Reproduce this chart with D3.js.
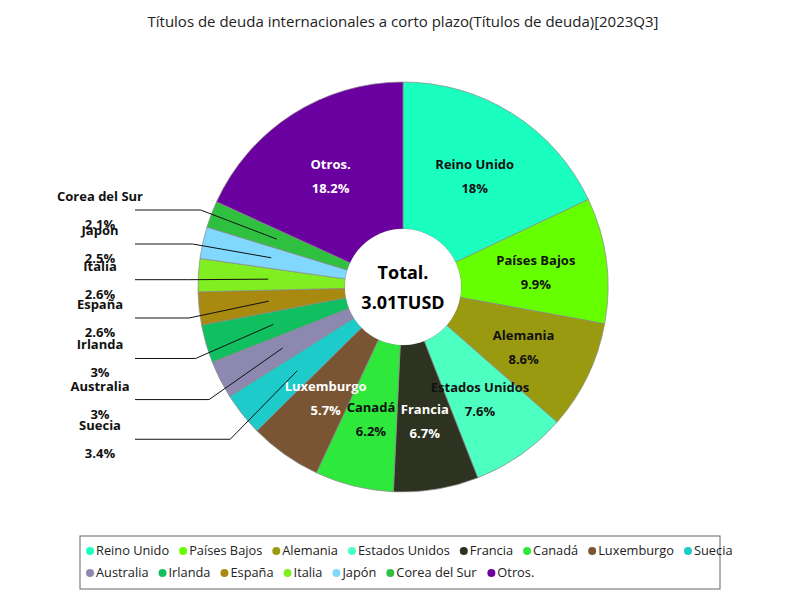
<!DOCTYPE html><html><head><meta charset="utf-8">
<script src="https://cdn.jsdelivr.net/npm/d3@7"></script>
<style>body{margin:0;background:#fff;font-family:"Open Sans",sans-serif}</style></head><body>
<svg id="c" width="800" height="600"></svg>
<script>
const categories=["Reino Unido","Países Bajos","Alemania","Estados Unidos","Francia","Canadá","Luxemburgo","Suecia","Australia","Irlanda","España","Italia","Japón","Corea del Sur","Otros."];
const values=[18,9.9,8.6,7.6,6.7,6.2,5.7,3.4,3,3,2.6,2.6,2.5,2.1,18.2];
const colors=["#1affc0","#66ff00","#9a9a10","#4dffc0","#2d3320","#2ee83c","#7a5533","#1ecbcb","#8c88b0","#10c060","#a88a10","#80ee20","#80d8ff","#30c040","#6a00a0"];
const darkText=new Set(["Francia","Luxemburgo","Otros."]);
const svg=d3.select("#c");
svg.append("text").attr("x",403).attr("y",27).attr("text-anchor","middle").attr("font-size",15).attr("fill","#222")
 .text("Títulos de deuda internacionales a corto plazo(Títulos de deuda)[2023Q3]");
const cx=403,cy=287,R=205,r0=58;
const g=svg.append("g").attr("transform",`translate(${cx},${cy})`);
const pie=d3.pie().sort(null).value(d=>d.v);
const data=pie(categories.map((c,i)=>({c,v:values[i],col:colors[i]})));
const arc=d3.arc().innerRadius(r0).outerRadius(R);
g.selectAll("path").data(data).join("path").attr("d",arc).attr("fill",d=>d.data.col).attr("stroke","#888").attr("stroke-width",0.7);
const small=data.filter(d=>d.data.v<3.5);
const big=data.filter(d=>d.data.v>=3.5);
const lab=d3.arc().innerRadius(134).outerRadius(134);
big.forEach(d=>{const [x,y]=lab.centroid(d);const col=darkText.has(d.data.c)?"#fff":"#111";
 g.append("text").attr("x",x).attr("y",y-5).attr("text-anchor","middle").attr("font-size",13).attr("font-weight","bold").attr("fill",col).text(d.data.c);
 g.append("text").attr("x",x).attr("y",y+19).attr("text-anchor","middle").attr("font-size",13).attr("font-weight","bold").attr("fill",col).text(d.data.v+"%");});
const inner=d3.arc().innerRadius(135).outerRadius(135);
const ys=small.map(d=>{const a=(d.startAngle+d.endAngle)/2;return -Math.cos(a)*235;});
const order=small.map((d,i)=>i).sort((a,b)=>ys[a]-ys[b]);
let prev=-1e9;order.forEach(i=>{if(ys[i]<prev+34)ys[i]=prev+34;prev=ys[i];});
small.forEach((d,i)=>{const [x,y]=inner.centroid(d);const a=(d.startAngle+d.endAngle)/2;
 const ly=ys[i]-(ys[order[0]]+77);const ex=Math.sin(a)*195-20;
 g.append("polyline").attr("points",[[x,y],[ex,ly],[-268,ly]].map(p=>p.join(",")).join(" ")).attr("fill","none").attr("stroke","#111").attr("stroke-width",1);
 g.append("text").attr("x",-303).attr("y",ly-9).attr("text-anchor","middle").attr("font-size",13).attr("font-weight","bold").attr("fill","#111").text(d.data.c);
 g.append("text").attr("x",-303).attr("y",ly+19).attr("text-anchor","middle").attr("font-size",13).attr("font-weight","bold").attr("fill","#111").text(d.data.v+"%");});
g.append("circle").attr("r",r0).attr("fill","#fff");
g.append("text").attr("y",-8).attr("text-anchor","middle").attr("font-size",18).attr("font-weight","bold").text("Total.");
g.append("text").attr("y",22).attr("text-anchor","middle").attr("font-size",18).attr("font-weight","bold").text("3.01TUSD");
svg.append("rect").attr("x",80).attr("y",536).attr("width",640).attr("height",53).attr("fill","#fff").attr("stroke","#666");
categories.forEach((c,i)=>{const row=i<8?0:1;const y=row?577:555;
 const lg=svg.append("g");
 lg.append("circle").attr("r",4).attr("fill",colors[i]).attr("cy",y-4);
 lg.append("text").attr("x",6).attr("y",y).attr("font-size",12.8).attr("fill","#222").text(c);
 lg.attr("data-row",row);});
["0","1"].forEach(row=>{let x=86;svg.selectAll(`g[data-row="${row}"]`).each(function(){const w=this.getBBox().width;d3.select(this).attr("transform",`translate(${x+4},0)`);x+=w+10;});});
</script></body></html>
